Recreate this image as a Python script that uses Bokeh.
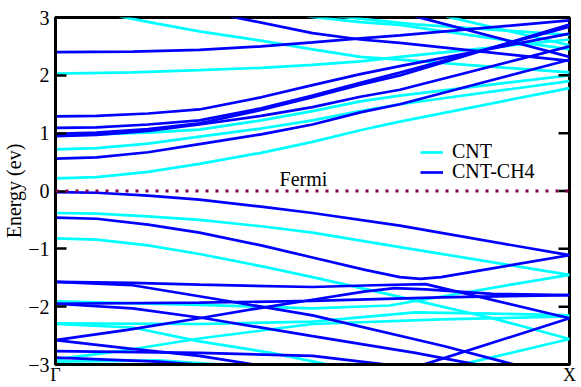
import math
from bokeh.plotting import figure
from bokeh.models import FixedTicker, Span, Label, Legend, LegendItem
from bokeh.embed import file_html
from bokeh.resources import INLINE

# ---- data -------------------------------------------------------------
kpath_ticks = [0, 1]
kpath_labels = ["Γ", "X"]
energy_ticks = [-3, -2, -1, 0, 1, 2, 3]
fermi_level = 0.0

# CNT bands (cyan): k along Γ->X (0..1), energy in eV
cnt_k = [
    [0, .08, .18, .28, .4, .5, .593, .67, 1],
    [0, .08, .18, .28, .4, .5, .593, .67, 1],
    [0, .08, .18, .28, .4, .5, .593, .67, 1],
    [0, .15, .28, .4, .5, .593, .67, 1],
    [0.125, .2, .28, .4, .5, .593, .67, .8, 1],
    [0.49, .593, .67, 1],
    [0.55, .7, 1],
    [0.76, 1],
    [0, .08, .18, .28, .4, .5, .67, 1],
    [0, .08, .18, .28, .4, .5, .67, .85, 1],
    [0, .28, .5, .65, .8, 1],
    [0, .28, .5, .7, .85, 1],
    [0, .14, .28, .5, .75, 1],
    [0, .2, .35],
    [.78, 1],
    [0, .15, .28, .42, .54],
]
cnt_e = [
    [0.22, 0.24, 0.33, 0.47, 0.66, 0.85, 1.05, 1.20, 1.78],
    [0.72, 0.74, 0.82, 0.94, 1.08, 1.22, 1.38, 1.50, 1.90],
    [0.97, 0.98, 1.01, 1.06, 1.22, 1.38, 1.55, 1.65, 2.00],
    [2.03, 2.05, 2.09, 2.13, 2.18, 2.24, 2.32, 2.62],
    [3.02, 2.89, 2.76, 2.60, 2.45, 2.32, 2.27, 2.18, 2.05],
    [3.02, 2.92, 2.87, 2.45],
    [3.02, 2.88, 2.70],
    [3.02, 2.52],
    [-0.38, -0.39, -0.44, -0.50, -0.61, -0.72, -0.97, -1.45],
    [-0.82, -0.84, -0.94, -1.09, -1.30, -1.49, -1.83, -2.20, -2.56],
    [-1.91, -1.97, -2.03, -1.98, -1.75, -1.45],
    [-2.29, -2.30, -2.26, -2.10, -2.12, -2.15],
    [-2.91, -2.75, -2.55, -2.30, -2.22, -2.17],
    [-2.95, -2.93, -3.02],
    [-3.02, -2.56],
    [-2.30, -2.36, -2.60, -2.80, -3.02],
]

# CNT-CH4 bands (blue)
ch4_k = [
    [0, .08, .18, .28, .4, .5, .593, .67, 1],
    [0, .08, .18, .28, .4, .5, .593, .67, 1],
    [0, .08, .18, .28, .4, .5, .593, .67, 1],
    [0, .08, .18, .28, .4, .5, .593, .67, 1],
    [0, .08, .18, .28, .4, .5, .593, .67, 1],
    [0, .15, .28, .4, .5, .593, .67, 1],
    [0.34, .5, .593, .67, 1],
    [0.7, 1],
    [0, .08, .18, .28, .4, .5, .67, 1],
    [0, .08, .18, .28, .4, .5, .6, .67, .71, .75, 1],
    [0, .15, .28, .5, .62, .72, 1],
    [0, .15, .3, .5, .755, .9],
    [0, .15, .29, .5, .7, .83],
    [0, .14, .28, .4, .5, .6, .66, .72, .85, 1],
    [0, .28, .5, .75, 1],
    [0, .28, .5, .66],
    [0, .14, .28, .4],
    [.71, 1],
    [0, .2, .3],
]
ch4_e = [
    [0.56, 0.58, 0.67, 0.81, 0.98, 1.15, 1.36, 1.50, 2.27],
    [0.95, 0.97, 1.04, 1.15, 1.30, 1.45, 1.63, 1.75, 2.50],
    [0.99, 1.01, 1.07, 1.17, 1.40, 1.62, 1.84, 2.00, 2.88],
    [1.09, 1.10, 1.15, 1.22, 1.43, 1.65, 1.87, 2.05, 2.84],
    [1.29, 1.30, 1.34, 1.41, 1.62, 1.83, 2.02, 2.16, 2.72],
    [2.40, 2.41, 2.44, 2.50, 2.57, 2.64, 2.69, 2.95],
    [3.02, 2.73, 2.62, 2.56, 2.25],
    [3.02, 2.32],
    [-0.02, -0.03, -0.08, -0.15, -0.27, -0.38, -0.60, -1.11],
    [-0.46, -0.48, -0.58, -0.72, -0.94, -1.15, -1.36, -1.49, -1.52, -1.49, -1.11],
    [-1.57, -1.59, -1.62, -1.66, -1.63, -1.61, -2.20],
    [-1.57, -1.63, -1.85, -2.15, -2.68, -3.02],
    [-1.95, -2.03, -2.20, -2.51, -2.80, -3.02],
    [-2.58, -2.40, -2.20, -2.02, -1.88, -1.74, -1.68, -1.70, -1.78, -1.80],
    [-1.95, -1.93, -1.90, -1.84, -1.80],
    [-2.77, -2.80, -2.85, -3.02],
    [-2.58, -2.72, -2.85, -3.02],
    [-3.02, -2.20],
    [-2.88, -2.95, -3.02],
]

# ---- figure -----------------------------------------------------------
FONT = "Liberation Serif"
p = figure(width=581, height=387, output_backend="svg", toolbar_location=None,
           x_range=(kpath_ticks[0], kpath_ticks[-1]), y_range=(energy_ticks[0], energy_ticks[-1]),
           min_border_left=55, min_border_right=12, min_border_top=17, min_border_bottom=19)
p.xgrid.visible = False
p.ygrid.visible = False
p.background_fill_color = "white"
p.border_fill_color = "white"
p.outline_line_color = "black"
p.outline_line_width = 3
p.outline_line_alpha = 1

r_cnt = p.multi_line(cnt_k, cnt_e, line_color="#00FFFF", line_width=2.7)
r_ch4 = p.multi_line(ch4_k, ch4_e, line_color="#0000FF", line_width=2.7)

p.add_layout(Span(location=fermi_level, dimension="width", line_color="#800050",
                  line_dash="3 7", line_width=3))
p.add_layout(Label(x=0.436, y=fermi_level, y_offset=1, text="Fermi", text_font=FONT,
                   text_font_size="20px", text_color="black",
                   text_align="left", text_baseline="bottom"))

# x axis: only the Γ and X labels at the frame ends
xa = p.xaxis[0]
xa.ticker = FixedTicker(ticks=kpath_ticks)
xa.major_label_overrides = {t: lab for t, lab in zip(kpath_ticks, kpath_labels)}
xa.major_tick_in = 0
xa.major_tick_out = 0
xa.minor_tick_line_color = None
xa.axis_line_width = 3
xa.major_label_standoff = 0
xa.major_label_text_font = FONT
xa.major_label_text_font_size = "18px"
xa.major_label_text_color = "black"

# y axis
ya = p.yaxis[0]
ya.ticker = FixedTicker(ticks=energy_ticks)
ya.major_tick_in = 11
ya.major_tick_out = 0
ya.major_tick_line_width = 2.5
ya.minor_tick_line_color = None
ya.axis_line_width = 3
ya.major_label_standoff = 6
ya.major_label_text_font = FONT
ya.major_label_text_font_size = "20px"
ya.major_label_text_color = "black"
ya.axis_label = "Energy (ev)"
ya.axis_label_text_font = FONT
ya.axis_label_text_font_size = "20px"
ya.axis_label_text_font_style = "normal"
ya.axis_label_text_color = "black"
ya.axis_label_standoff = 0

# inward ticks on the right edge
p.ray(x=[kpath_ticks[-1]] * len(energy_ticks), y=energy_ticks, length=11,
      length_units="screen", angle=math.pi, line_color="black", line_width=2.5)

# legend: two one-row legends so the rows sit 20px apart
for item_label, rend, ypos in (("CNT", r_cnt, 201), ("CNT-CH4", r_ch4, 181)):
    lg = Legend(items=[LegendItem(label=item_label, renderers=[rend])], location=(365, ypos))
    lg.border_line_color = None
    lg.background_fill_alpha = 0
    lg.padding = 0
    lg.margin = 0
    lg.spacing = 0
    lg.glyph_width = 23
    lg.glyph_height = 20
    lg.label_height = 20
    lg.label_standoff = 9
    lg.label_text_font = FONT
    lg.label_text_font_size = "20px"
    lg.label_text_color = "black"
    p.add_layout(lg)

open("out.html", "w").write(file_html(p, INLINE))
